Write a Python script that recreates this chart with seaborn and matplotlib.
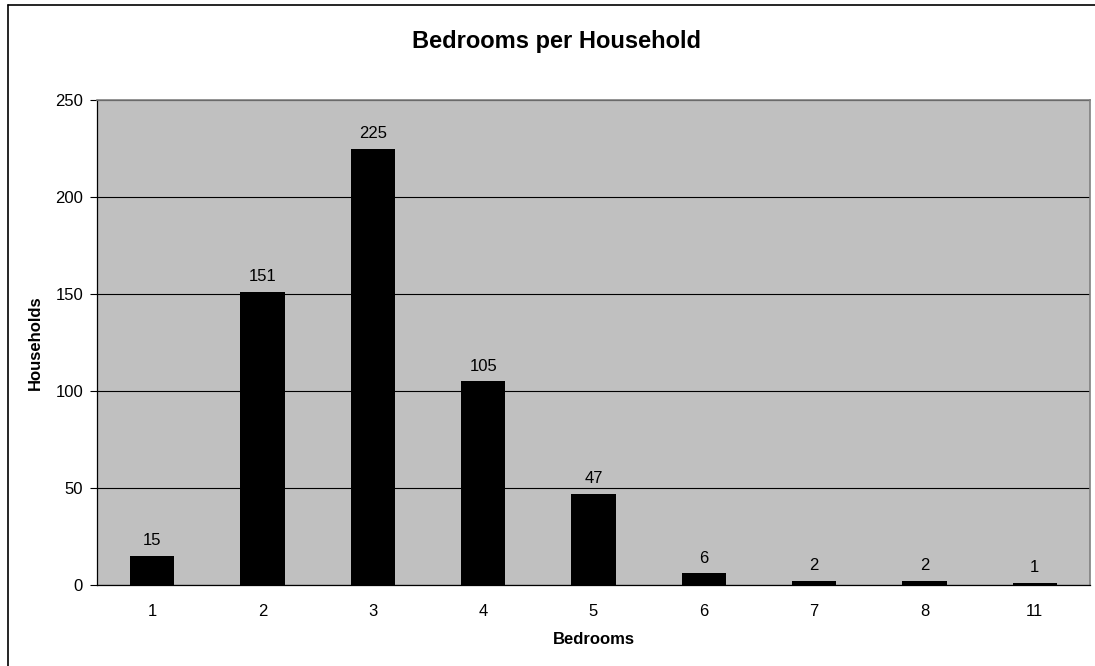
import matplotlib
matplotlib.use('Agg')
import matplotlib.pyplot as plt
import seaborn as sns
import pandas as pd
from matplotlib.lines import Line2D

# Data
bedrooms = ['1', '2', '3', '4', '5', '6', '7', '8', '11']
households = [15, 151, 225, 105, 47, 6, 2, 2, 1]

sns.set_style('white')
plt.rcParams['font.family'] = ['Liberation Sans', 'DejaVu Sans']
plt.rcParams['text.color'] = 'black'
plt.rcParams['axes.labelcolor'] = 'black'
plt.rcParams['xtick.color'] = 'black'
plt.rcParams['ytick.color'] = 'black'

df = pd.DataFrame({'Bedrooms': bedrooms, 'Households': households})

fig = plt.figure(figsize=(10.95, 6.66), dpi=100)
ax = fig.add_axes([97 / 1095, 1 - 585 / 666, (1090 - 97) / 1095, (585 - 100) / 666])
ax.set_facecolor('#C0C0C0')

sns.barplot(data=df, x='Bedrooms', y='Households', color='black', width=0.40,
            saturation=1, linewidth=0, ax=ax, zorder=3)

ax.set_ylim(0, 250)
ax.set_xlim(-0.5, len(bedrooms) - 0.5)
ax.set_yticks(range(0, 251, 50))
ax.yaxis.grid(True, color='black', linewidth=0.8, zorder=1)
ax.set_axisbelow(True)
ax.tick_params(axis='y', length=5, width=0.8, labelsize=12, pad=5, left=True)
ax.tick_params(axis='x', length=0, labelsize=12, pad=14)

for spine in ['left', 'bottom']:
    ax.spines[spine].set_color('black')
    ax.spines[spine].set_linewidth(0.9)
for spine in ['top', 'right']:
    ax.spines[spine].set_color('#808080')
    ax.spines[spine].set_linewidth(1.2)

# value labels
for i, v in enumerate(households):
    ax.text(i, v + 4, str(v), ha='center', va='bottom', fontsize=12)

ax.set_xlabel('Bedrooms', fontsize=12, fontweight='bold', labelpad=9)
ax.set_ylabel('Households', fontsize=12, fontweight='bold', labelpad=9)
fig.text(556 / 1095, 1 - 48 / 666, 'Bedrooms per Household', ha='center', va='baseline',
         fontsize=17, fontweight='bold')

# chart border: only left and top edges are inside the image
bx, by = 8 / 1095, 1 - 5 / 666
fig.add_artist(Line2D([bx, bx], [0, by], transform=fig.transFigure, color='black', linewidth=1.2))
fig.add_artist(Line2D([bx, 1], [by, by], transform=fig.transFigure, color='black', linewidth=1.2))

fig.savefig('out.png', dpi=100)
